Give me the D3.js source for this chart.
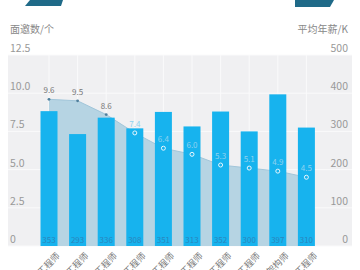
<!DOCTYPE html>
<html><head><meta charset="utf-8">
<script src="https://cdn.jsdelivr.net/npm/d3@7"></script>
<style>html,body{margin:0;padding:0;background:#fff;}svg{display:block;font-family:"Noto Sans CJK SC","Noto Sans",sans-serif;}</style>
</head><body>
<script>
const categories = ["Java工程师","PHP工程师","Android工程师","iOS工程师","Python工程师","前端工程师","C++工程师","测试工程师","架构师","运维工程师"];
const salary = [353,293,336,308,351,313,352,300,397,310];
const interviews = [9.6,9.5,8.6,7.4,6.4,6.0,5.3,5.1,4.9,4.5];
const leftTicks = [0,2.5,5.0,7.5,10.0,12.5];
const rightTicks = [0,100,200,300,400,500];

const W=360,H=270;
const svg=d3.select("body").append("svg").attr("width",W).attr("height",H);
const pTop=55,pBottom=246,pLeft=8,pRight=352;

// decorative header pieces
svg.append("path").attr("d","M30,0L63,0L61,6L25,6Z").attr("fill","#1f6a88");
svg.append("path").attr("d","M295,0L334,0L330,7L295,7Z").attr("fill","#1f6a88");

svg.append("rect").attr("x",pLeft).attr("y",pTop).attr("width",pRight-pLeft).attr("height",pBottom-pTop).attr("fill","#f0f0f2");

const x=d3.scalePoint().domain(categories).range([49,306.4]);
const yL=d3.scaleLinear().domain([0,12.5]).range([pBottom,pTop]);
const yR=d3.scaleLinear().domain([0,500]).range([pBottom,pTop]);

// grid
svg.append("g").selectAll("line").data(leftTicks).join("line")
 .attr("x1",pLeft).attr("x2",pRight).attr("y1",d=>yL(d)).attr("y2",d=>yL(d)).attr("stroke","#fafafb").attr("stroke-width",1);
svg.append("g").selectAll("line").data(categories).join("line")
 .attr("x1",d=>x(d)).attr("x2",d=>x(d)).attr("y1",pTop).attr("y2",pBottom).attr("stroke","#fafafb").attr("stroke-width",1);

// watermark
const wm=svg.append("g").attr("fill","#000").attr("fill-opacity",0.022).attr("font-size",30).attr("font-family","Lato,sans-serif").attr("font-weight","bold");
[[70,140],[250,170]].forEach(p=>wm.append("text").attr("transform",`translate(${p[0]},${p[1]}) rotate(-55)`).text("100offer"));

// area + line
const idx=d3.range(categories.length);
const area=d3.area().x(i=>x(categories[i])).y0(pBottom).y1(i=>yL(interviews[i]));
svg.append("path").datum(idx).attr("d",area).attr("fill","#b6d4e3");
const line=d3.line().x(i=>x(categories[i])).y(i=>yL(interviews[i]));
svg.append("path").datum(idx).attr("d",line).attr("fill","none").attr("stroke","#a2c6da").attr("stroke-width",1);

// bars
const bw=17;
svg.append("g").selectAll("rect").data(idx).join("rect")
 .attr("x",i=>x(categories[i])-bw/2).attr("width",bw)
 .attr("y",i=>yR(salary[i])).attr("height",i=>pBottom-yR(salary[i]))
 .attr("fill","#17b3ee");
svg.append("g").selectAll("text").data(idx).join("text")
 .attr("x",i=>x(categories[i])).attr("y",pBottom-3).attr("text-anchor","middle")
 .attr("font-size",8).attr("fill","#2a86bd").text(i=>salary[i]);

// markers + labels
const inBar=i=>yL(interviews[i])>yR(salary[i])+2;
svg.append("g").selectAll("circle").data(idx).join("circle")
 .attr("cx",i=>x(categories[i])).attr("cy",i=>yL(interviews[i]))
 .attr("r",i=>inBar(i)?2:1.4)
 .attr("fill",i=>inBar(i)?"none":"#4f7f9c")
 .attr("stroke",i=>inBar(i)?"#e8f6fd":"none").attr("stroke-width",1);
svg.append("g").selectAll("text").data(idx).join("text")
 .attr("x",i=>x(categories[i])).attr("y",i=>yL(interviews[i])-6).attr("text-anchor","middle")
 .attr("font-size",8).attr("fill",i=>inBar(i)?"#8fd2f0":"#777").text(i=>interviews[i].toFixed(1));

// axes labels
svg.append("g").selectAll("text").data(leftTicks).join("text")
 .attr("x",10).attr("y",d=>yL(d)-3).attr("font-size",10.5).attr("fill","#999")
 .text(d=>d===0?"0":d.toFixed(1));
svg.append("g").selectAll("text").data(rightTicks).join("text")
 .attr("x",348).attr("y",d=>yR(d)-3).attr("text-anchor","end").attr("font-size",10.5).attr("fill","#999")
 .text(d=>d);
svg.append("text").attr("x",10).attr("y",33).attr("font-size",10).attr("fill","#888").text("面邀数/个");
svg.append("text").attr("x",348).attr("y",33).attr("text-anchor","end").attr("font-size",10).attr("fill","#888").text("平均年薪/K");

// x labels
svg.append("g").selectAll("text").data(categories).join("text")
 .attr("transform",d=>`translate(${x(d)+7},${pBottom+6}) rotate(-45)`)
 .attr("text-anchor","end").attr("dy","0.7em").attr("font-size",9).attr("fill","#777").text(d=>d);
</script>
</body></html>
